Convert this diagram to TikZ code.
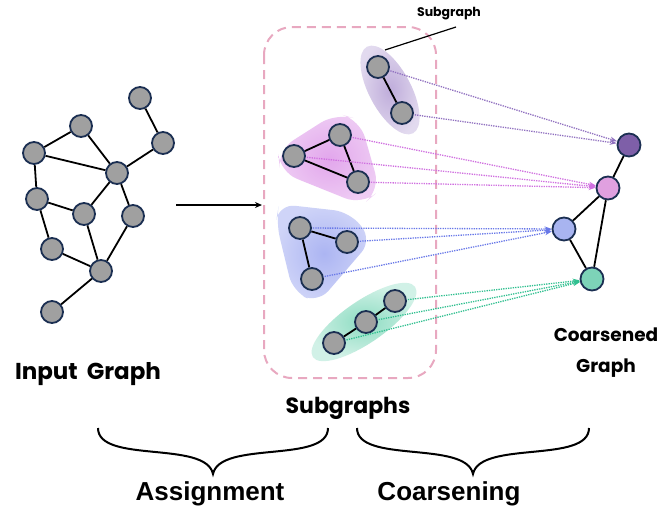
\documentclass[tikz,border=0pt]{standalone}
\usepackage{fontspec}
\newfontfamily\comicfont{Poppins}
\newfontfamily\arialfont{Liberation Sans}
\usetikzlibrary{arrows.meta}
\definecolor{navy}{HTML}{1B2F52}
\definecolor{ngray}{HTML}{A0A0A0}
\definecolor{boxpink}{HTML}{E8A8C0}
\definecolor{cpurple}{HTML}{7E5FA8}
\definecolor{cpink}{HTML}{E0A0E0}
\definecolor{cblue}{HTML}{A8B4F0}
\definecolor{cgreen}{HTML}{7DD3B8}
\definecolor{lpurple}{HTML}{9070C0}
\definecolor{lpink}{HTML}{D070E0}
\definecolor{lblue}{HTML}{6878E8}
\definecolor{lgreen}{HTML}{30C090}
\tikzset{
  gnode/.style={circle, minimum size=22pt, inner sep=0pt, fill=ngray, draw=navy, line width=1.8pt},
  cnode/.style={circle, minimum size=23pt, inner sep=0pt, draw=navy, line width=1.8pt},
  gedge/.style={line width=1.8pt, black},
  maplink/.style={line width=1.3pt, dash pattern=on 1.3pt off 1.1pt, -{Stealth[length=7pt,width=5pt]}, shorten <=1pt},
  comiclabel/.style={font=\comicfont\bfseries\fontsize{21}{32}\selectfont, inner sep=0pt, align=center},
  ariallabel/.style={font=\arialfont\bfseries\fontsize{26}{30}\selectfont, inner sep=0pt},
  bracepath/.style={line width=2pt, black},
}
\begin{document}
\begin{tikzpicture}[x=1pt, y=-1pt]
\useasboundingbox (0,0) rectangle (661,517);
\fill[white] (0,0) rectangle (661,517);

% ---------- input graph ----------
\node[gnode] (a) at (140,98) {};
\node[gnode] (b) at (163,143) {};
\node[gnode] (c) at (81,126) {};
\node[gnode] (d) at (34,153) {};
\node[gnode] (e) at (117,173) {};
\node[gnode] (f) at (37,199) {};
\node[gnode] (g) at (84,214) {};
\node[gnode] (h) at (133,216) {};
\node[gnode] (i) at (52,249) {};
\node[gnode] (j) at (101,271) {};
\node[gnode] (k) at (52,312) {};
\draw[gedge] (a) -- (b);
\draw[gedge] (b) -- (e);
\draw[gedge] (c) -- (d);
\draw[gedge] (c) -- (e);
\draw[gedge] (d) -- (e);
\draw[gedge] (d) -- (f);
\draw[gedge] (f) -- (g);
\draw[gedge] (g) -- (e);
\draw[gedge] (e) -- (h);
\draw[gedge] (f) -- (i);
\draw[gedge] (g) -- (j);
\draw[gedge] (i) -- (j);
\draw[gedge] (h) -- (j);
\draw[gedge] (j) -- (k);

\node[comiclabel, font=\comicfont\bfseries\fontsize{23}{28}\selectfont] (inlabel) at (88,374) {Input\hspace{9pt}Graph};

% main arrow
\coordinate (arrs) at (176,205);
\coordinate (arre) at (262,205);
\draw[line width=2pt, -{Stealth[length=7pt,width=6pt]}] (arrs) -- (arre);

% ---------- subgraphs box ----------
\draw[boxpink, line width=2pt, dash pattern=on 9pt off 6pt, rounded corners=28pt] (264,27) rectangle (436,378);

% blobs
\shade[inner color=lpurple!58, outer color=lpurple!26, rotate around={-62:(390,90)}] (390,90) ellipse [x radius=49pt, y radius=21pt];
\shade[inner color=lpink!62, outer color=lpink!36, rounded corners=18pt]
  (336,113) -- (278,150) -- (280,172) -- (362,205) -- (380,190) -- (360,120) -- cycle;
\shade[inner color=lblue!55, outer color=lblue!32, rounded corners=16pt]
  (279,204) -- (350,212) -- (372,240) -- (318,303) -- (293,292) -- (276,222) -- cycle;
\shade[inner color=lgreen!55, outer color=lgreen!22, rotate around={34.5:(364,322)}] (364,322) ellipse [x radius=62pt, y radius=21pt];

% subgraph 1
\node[gnode] (p1) at (378,67) {};
\node[gnode] (p2) at (402,113) {};
\draw[gedge] (p1) -- (p2);
% subgraph 2
\node[gnode] (q1) at (340,135) {};
\node[gnode] (q2) at (294,156) {};
\node[gnode] (q3) at (358,182) {};
\draw[gedge] (q1) -- (q2);
\draw[gedge] (q2) -- (q3);
\draw[gedge] (q1) -- (q3);
% subgraph 3
\node[gnode] (r1) at (300,228) {};
\node[gnode] (r2) at (347,242) {};
\node[gnode] (r3) at (312,279) {};
\draw[gedge] (r1) -- (r2);
\draw[gedge] (r1) -- (r3);
% subgraph 4
\node[gnode] (s1) at (395,301) {};
\node[gnode] (s2) at (366,322) {};
\node[gnode] (s3) at (334,343) {};
\draw[gedge] (s1) -- (s2);
\draw[gedge] (s2) -- (s3);

% Subgraph label
\node[font=\comicfont\bfseries\fontsize{12.5}{14}\selectfont, inner sep=1pt] (sglabel) at (449,14) {Subgraph};
\coordinate (sgfrom) at (385,50);
\coordinate (sgto) at (456,27);
\draw[line width=1.2pt] (sgfrom) -- (sgto);

\node[comiclabel, font=\comicfont\bfseries\fontsize{22}{28}\selectfont] (sublabel) at (348,408) {Subgraphs};

% ---------- coarsened graph ----------
\node[cnode, fill=cpurple] (cp) at (629,145) {};
\node[cnode, fill=cpink] (ck) at (608,188) {};
\node[cnode, fill=cblue] (cb) at (564,229) {};
\node[cnode, fill=cgreen] (cg) at (592,279) {};
\draw[gedge] (cp) -- (ck);
\draw[gedge] (ck) -- (cb);
\draw[gedge] (ck) -- (cg);
\draw[gedge] (cb) -- (cg);

\node[comiclabel, font=\comicfont\bfseries\fontsize{18.5}{31}\selectfont] (coarlabel) at (606,353) {Coarsened\\Graph};

% mapping links
\draw[maplink, lpurple] (p1) -- (cp);
\draw[maplink, lpurple] (p2) -- (cp);
\draw[maplink, lpink] (q1) -- (ck);
\draw[maplink, lpink] (q2) -- (ck);
\draw[maplink, lpink] (q3) -- (ck);
\draw[maplink, lblue] (r1) -- (cb);
\draw[maplink, lblue] (r2) -- (cb);
\draw[maplink, lblue] (r3) -- (cb);
\draw[maplink, lgreen] (s1) -- (cg);
\draw[maplink, lgreen] (s2) -- (cg);
\draw[maplink, lgreen] (s3) -- (cg);

% ---------- braces ----------
\coordinate (b1l) at (98,428);
\coordinate (b1m) at (213,474);
\coordinate (b1r) at (328,428);
\draw[bracepath] (b1l) .. controls (98,464) and (206,440) .. (b1m) .. controls (220,440) and (328,464) .. (b1r);
\coordinate (b2l) at (357,428);
\coordinate (b2m) at (473,474);
\coordinate (b2r) at (589,428);
\draw[bracepath] (b2l) .. controls (357,464) and (466,440) .. (b2m) .. controls (480,440) and (589,464) .. (b2r);

\node[ariallabel] (assign) at (210,494) {Assignment};
\node[ariallabel] (coarsen) at (449,494) {Coarsening};
\end{tikzpicture}
\end{document}
